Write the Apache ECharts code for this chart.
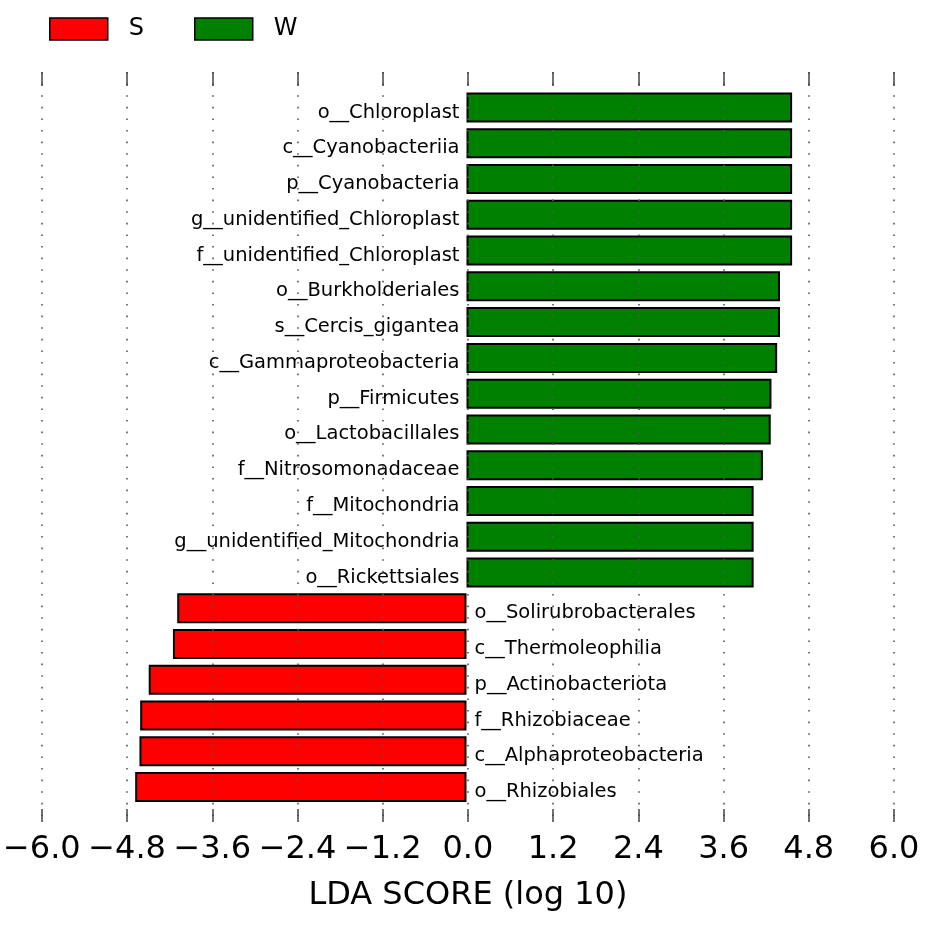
<!DOCTYPE html>
<html>
<head>
<meta charset="utf-8">
<script src="https://cdn.jsdelivr.net/npm/echarts@6/dist/echarts.min.js"></script>
<style>
    html, body {margin: 0; padding: 0; background: #fff;}
    #chart {width: 935px; height: 925px;}
</style>
</head>
<body>
<div id="chart"></div>
<script>
    // taxa, top to bottom
    const taxa = [
        'o__Chloroplast', 'c__Cyanobacteriia', 'p__Cyanobacteria', 'g__unidentified_Chloroplast',
        'f__unidentified_Chloroplast', 'o__Burkholderiales', 's__Cercis_gigantea', 'c__Gammaproteobacteria',
        'p__Firmicutes', 'o__Lactobacillales', 'f__Nitrosomonadaceae', 'f__Mitochondria',
        'g__unidentified_Mitochondria', 'o__Rickettsiales', 'o__Solirubrobacterales', 'c__Thermoleophilia',
        'p__Actinobacteriota', 'f__Rhizobiaceae', 'c__Alphaproteobacteria', 'o__Rhizobiales'
    ];
    // LDA scores (null where the taxon belongs to the other group)
    const scoreW = [4.57, 4.57, 4.57, 4.57, 4.57, 4.40, 4.40, 4.36, 4.28, 4.27, 4.16, 4.03, 4.03, 4.03,
        null, null, null, null, null, null];
    const scoreS = [null, null, null, null, null, null, null, null, null, null, null, null, null, null,
        -4.06, -4.12, -4.46, -4.58, -4.59, -4.65];
    const ticks = [-6.0, -4.8, -3.6, -2.4, -1.2, 0.0, 1.2, 2.4, 3.6, 4.8, 6.0];

    const font = 'DejaVu Sans';
    const fmtTick = v => (v < 0 ? '\u2212' : '') + Math.abs(v).toFixed(1);

    let myChart = echarts.init(document.getElementById('chart'));
    myChart.setOption({
        animation: false,
        legend: {
            left: 44,
            top: 12,
            itemWidth: 58,
            itemHeight: 22,
            itemGap: 50,
            icon: 'rect',
            itemStyle: {borderColor: '#000', borderWidth: 1.5},
            textStyle: {fontFamily: font, fontSize: 24, color: '#000', padding: [0, 0, 0, 16]},
            data: ['S', 'W']
        },
        grid: [
            {left: 39, right: 41, top: 72, bottom: 103},
            {left: 39, right: 41, top: 89.6, bottom: 120}
        ],
        xAxis: [
            {
                gridIndex: 0,
                type: 'value',
                position: 'bottom',
                min: ticks[0], max: ticks[ticks.length - 1], interval: 1.2,
                z: 5,
                axisLine: {show: false},
                axisTick: {show: true, inside: true, length: 13, lineStyle: {color: '#444', width: 1.5}},
                axisLabel: {
                    fontFamily: font, fontSize: 32, color: '#000', margin: 12,
                    showMinLabel: true, showMaxLabel: true,
                    formatter: fmtTick
                },
                splitLine: {show: true, lineStyle: {color: '#555', width: 1.6, type: [1.6, 10]}},
                name: 'LDA SCORE (log 10)',
                nameLocation: 'middle',
                nameGap: 58,
                nameTextStyle: {fontFamily: font, fontSize: 32, color: '#000'}
            },
            {
                gridIndex: 0,
                type: 'value',
                position: 'top',
                min: ticks[0], max: ticks[ticks.length - 1], interval: 1.2,
                z: 5,
                axisLine: {show: false},
                axisTick: {show: true, inside: true, length: 14, lineStyle: {color: '#444', width: 1.5}},
                axisLabel: {show: false},
                splitLine: {show: false}
            },
            {
                gridIndex: 1,
                type: 'value',
                min: ticks[0], max: ticks[ticks.length - 1],
                show: false
            }
        ],
        yAxis: [
            {gridIndex: 0, type: 'value', min: 0, max: 1, show: false},
            {
                gridIndex: 1,
                type: 'category',
                data: taxa,
                inverse: true,
                show: false
            }
        ],
        series: [
            {
                name: 'S',
                type: 'bar',
                xAxisIndex: 2,
                yAxisIndex: 1,
                data: scoreS,
                barWidth: 30,
                barGap: '-100%',
                itemStyle: {color: '#ff0000', borderColor: '#000', borderWidth: 2},
                label: {
                    show: true, position: 'right', distance: 8, offset: [0, 5],
                    fontFamily: font, fontSize: 19.5, color: '#000',
                    formatter: p => p.name
                }
            },
            {
                name: 'W',
                type: 'bar',
                xAxisIndex: 2,
                yAxisIndex: 1,
                data: scoreW,
                barWidth: 30,
                barGap: '-100%',
                itemStyle: {color: '#008000', borderColor: '#000', borderWidth: 2},
                label: {
                    show: true, position: 'left', distance: 7, offset: [0, 5],
                    fontFamily: font, fontSize: 19.5, color: '#000',
                    formatter: p => p.name
                }
            }
        ]
    });
</script>
</body>
</html>
